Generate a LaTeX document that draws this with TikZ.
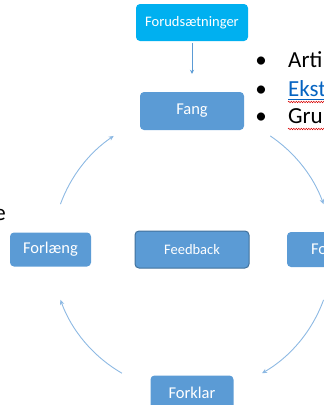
\documentclass[tikz,border=0pt]{standalone}
\usepackage{fontspec}
\setmainfont{Carlito}
\usetikzlibrary{positioning,arrows.meta,decorations.pathmorphing}
\definecolor{boxblue}{HTML}{5B9BD5}
\definecolor{boxcyan}{HTML}{00B0F0}
\definecolor{boxedge}{HTML}{41719C}
\definecolor{ringblue}{HTML}{8DB9E3}
\definecolor{linkblue}{HTML}{0563C1}
\tikzset{
    stepbox/.style={rectangle, rounded corners=4pt, fill=boxblue, text=white,
        font=\fontsize{16.5}{20}\selectfont, inner sep=0pt, minimum height=35pt},
    smallbox/.style={stepbox, font=\fontsize{14.5}{18}\selectfont},
    ringarrow/.style={draw=ringblue, line width=0.9pt, -{Stealth[length=5pt,width=4.5pt]}},
    bullettext/.style={font=\fontsize{23}{28}\selectfont, inner sep=0pt},
    spellline/.style={draw=red!85!black, line width=0.5pt,
        decorate, decoration={snake, amplitude=0.7pt, segment length=2.5pt}}
}
\begin{document}
\begin{tikzpicture}[x=1pt, y=-1pt]
    \useasboundingbox (0,0) rectangle (324,405);
    \clip (0,0) rectangle (324,405);
    % boxes of the cycle
    \node[smallbox, minimum width=114pt, minimum height=37pt, draw=boxedge, line width=1pt] (feedback) at (192,249.5) {Feedback};
    \node[stepbox, minimum width=104pt, minimum height=38pt, above of=feedback, node distance=138.5pt] (fang) {Fang};
    \node[smallbox, fill=boxcyan, minimum width=112pt, minimum height=37pt, above of=fang, node distance=88.5pt] (forud) {Forudsætninger};
    \node[stepbox, minimum width=81pt, minimum height=34pt, left of=feedback, node distance=141.5pt] (forlaeng) {Forlæng};
    \node[stepbox, minimum width=80pt, text width=32pt, align=left, inner xsep=24pt, right of=feedback, node distance=135pt] (fo) {Fo};
    \node[stepbox, minimum width=83pt, below of=feedback, node distance=143.5pt] (forklar) {Forklar};
    \draw[draw=boxblue, line width=0.8pt, -{Stealth[length=4pt,width=4pt]}, shorten <=2pt, shorten >=18pt] (forud.south) -- (fang.north);
    % the ring
    \coordinate (ring) at ([yshift=-2.5pt]feedback.center);
    \foreach \a/\b in {200/236, 304/340, 20/60, 120/160}
        \draw[ringarrow] ([shift={(\a:140)}]ring) arc[start angle=\a, end angle=\b, radius=140];
    % bullet list at the right
    \foreach \t/\y in {Arti/67, Ekst/96, Gru/123}
        \node[bullettext, anchor=base] (b\t) at (261,\y) {•};
    \node[bullettext, anchor=base west] (arti) at (288,67) {Arti};
    \node[bullettext, anchor=base west, text=linkblue] (ekst) at (288,96) {Ekst};
    \node[bullettext, anchor=base west] (gru) at (288,123) {Gru};
    \draw[linkblue, line width=0.6pt] (ekst.base west) ++(0,3) -- ++(40,0);
    \draw[spellline] (ekst.base west) ++(0,6) -- ++(40,0);
    \draw[spellline] (gru.base west) ++(0,6) -- ++(40,0);
    % text cut at the left
    \node[bullettext, anchor=base east] (cut) at (6,220) {e};
\end{tikzpicture}
\end{document}
